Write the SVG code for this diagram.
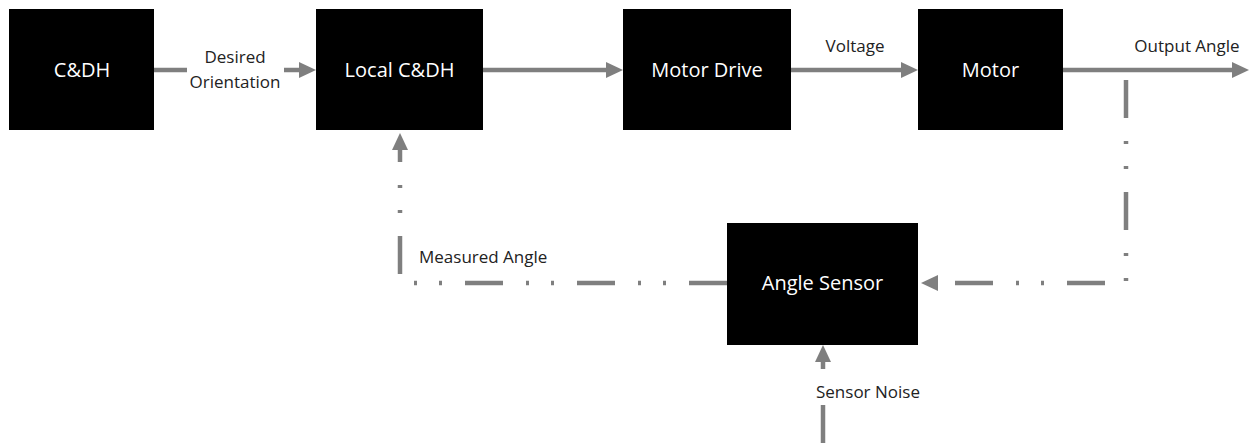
<svg xmlns="http://www.w3.org/2000/svg" width="1251" height="443" viewBox="0 0 1251 443">
<style>
.box{fill:#000}
.lbl{fill:#fff;font-family:"Open Sans","Liberation Sans",sans-serif;font-size:20px;text-anchor:middle}
.note{fill:#222;font-family:"Open Sans","Liberation Sans",sans-serif;font-size:17px}
.ln{stroke:#7f7f7f;stroke-width:4.5;fill:none}
.dd{stroke-dasharray:38 23 3 22 3 23}
</style>
<defs>
<marker id="ah" markerUnits="userSpaceOnUse" markerWidth="17" markerHeight="16" refX="0" refY="8" orient="auto" viewBox="0 0 17 16">
<path d="M0,0 L17,8 L0,16 z" fill="#7f7f7f"/>
</marker>
</defs>
<rect width="1251" height="443" fill="#fff"/>
<g id="cdh"><rect class="box" x="9" y="9" width="145" height="121"/><text class="lbl" x="82" y="77">C&amp;DH</text></g>
<g id="local"><rect class="box" x="316" y="9" width="167" height="121"/><text class="lbl" x="399.5" y="77">Local C&amp;DH</text></g>
<g id="drive"><rect class="box" x="623" y="9" width="168" height="121"/><text class="lbl" x="707" y="77">Motor Drive</text></g>
<g id="motor"><rect class="box" x="918" y="9" width="145" height="121"/><text class="lbl" x="990.5" y="77">Motor</text></g>
<g id="sensor"><rect class="box" x="727" y="223" width="191" height="122"/><text class="lbl" x="822.5" y="290">Angle Sensor</text></g>
<g id="connectors">
<line class="ln" x1="154" y1="70" x2="187" y2="70"/>
<line class="ln" x1="284" y1="70" x2="299" y2="70" marker-end="url(#ah)"/>
<line class="ln" x1="483" y1="70" x2="606" y2="70" marker-end="url(#ah)"/>
<line class="ln" x1="791" y1="70" x2="901" y2="70" marker-end="url(#ah)"/>
<line class="ln" x1="1063" y1="70" x2="1232" y2="70" marker-end="url(#ah)"/>
<path class="ln dd" d="M1126,80 L1126,283 L938,283" marker-end="url(#ah)"/>
<path class="ln dd" d="M727,283 L400,283 L400,150" marker-end="url(#ah)"/>
<line class="ln" x1="823" y1="443" x2="823" y2="405"/>
<line class="ln" x1="823" y1="369" x2="823" y2="362" marker-end="url(#ah)"/>
<text class="note" x="235" y="63" text-anchor="middle">Desired</text>
<text class="note" x="235" y="88" text-anchor="middle">Orientation</text>
<text class="note" x="855" y="52" text-anchor="middle">Voltage</text>
<text class="note" x="1187" y="52" text-anchor="middle">Output Angle</text>
<text class="note" x="419" y="263">Measured Angle</text>
<text class="note" x="816" y="398">Sensor Noise</text>
</g>
</svg>
